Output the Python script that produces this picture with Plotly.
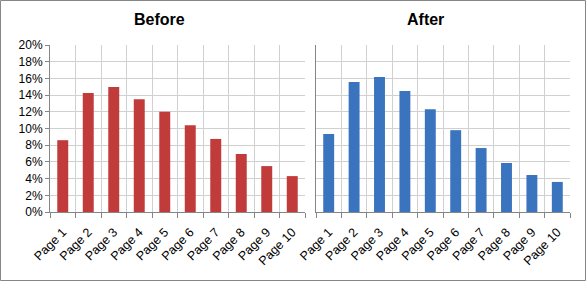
import plotly.graph_objects as go

pages = ["Page 1", "Page 2", "Page 3", "Page 4", "Page 5",
         "Page 6", "Page 7", "Page 8", "Page 9", "Page 10"]
before = [0.086, 0.1425, 0.1497, 0.135, 0.120, 0.104, 0.0875, 0.0695, 0.055, 0.043]
after = [0.0934, 0.1557, 0.1617, 0.145, 0.123, 0.098, 0.0766, 0.0587, 0.0443, 0.036]
y_ticks = [0, 0.02, 0.04, 0.06, 0.08, 0.10, 0.12, 0.14, 0.16, 0.18, 0.20]

W, H = 586, 281
fig = go.Figure()
fig.add_trace(go.Bar(x=pages, y=before, marker=dict(color="#c13b3b", line=dict(width=0)),
                     xaxis="x", yaxis="y", showlegend=False))
fig.add_trace(go.Bar(x=pages, y=after, marker=dict(color="#3a74bf", line=dict(width=0)),
                     xaxis="x2", yaxis="y2", showlegend=False))

axis_font = dict(family="Arial, Liberation Sans", size=12.5, color="#000000")
grid = "#d0d0d0"
linec = "#868686"
ydom = [69 / H, 236 / H]

common_x = dict(type="category", tickson="boundaries", ticks="outside", ticklen=5,
                tickcolor=linec, showgrid=True, gridcolor=grid, gridwidth=1,
                showline=True, linecolor=linec, linewidth=1, tickangle=-45,
                ticklabelstandoff=7,
                tickfont=axis_font, automargin=False, fixedrange=True)
common_y = dict(range=[0, 0.2], tickvals=y_ticks, tickformat=".0%", showgrid=True,
                gridcolor=grid, gridwidth=1, showline=True, linecolor=linec, linewidth=1,
                zeroline=False, tickfont=dict(family="Arial, Liberation Sans", size=12, color="#000"),
                automargin=False, fixedrange=True)

fig.update_layout(
    width=W, height=H,
    margin=dict(l=0, r=0, t=0, b=0),
    paper_bgcolor="white", plot_bgcolor="white",
    template="none",
    bargap=0.57,
    xaxis=dict(domain=[50 / W, 305 / W], anchor="y", **common_x),
    yaxis=dict(domain=ydom, anchor="x", ticks="outside", ticklen=4, tickcolor=linec,
               showticklabels=True, **common_y),
    xaxis2=dict(domain=[316 / W, 570 / W], anchor="y2", **common_x),
    yaxis2=dict(domain=ydom, anchor="x2", ticks="", showticklabels=False, **common_y),
    annotations=[
        dict(text="<b>Before</b>", x=159 / W, y=1 - 19 / H, xref="paper", yref="paper",
             showarrow=False, font=dict(family="Arial, Liberation Sans", size=16, color="#000"),
             xanchor="center", yanchor="middle"),
        dict(text="<b>After</b>", x=425 / W, y=1 - 19 / H, xref="paper", yref="paper",
             showarrow=False, font=dict(family="Arial, Liberation Sans", size=16, color="#000"),
             xanchor="center", yanchor="middle"),
    ],
    shapes=[dict(type="rect", xref="paper", yref="paper",
                 x0=0.5 / W, x1=1 - 0.5 / W, y0=0.5 / H, y1=1 - 0.5 / H,
                 line=dict(color="#868686", width=1))],
)

fig.write_html("out.html")
